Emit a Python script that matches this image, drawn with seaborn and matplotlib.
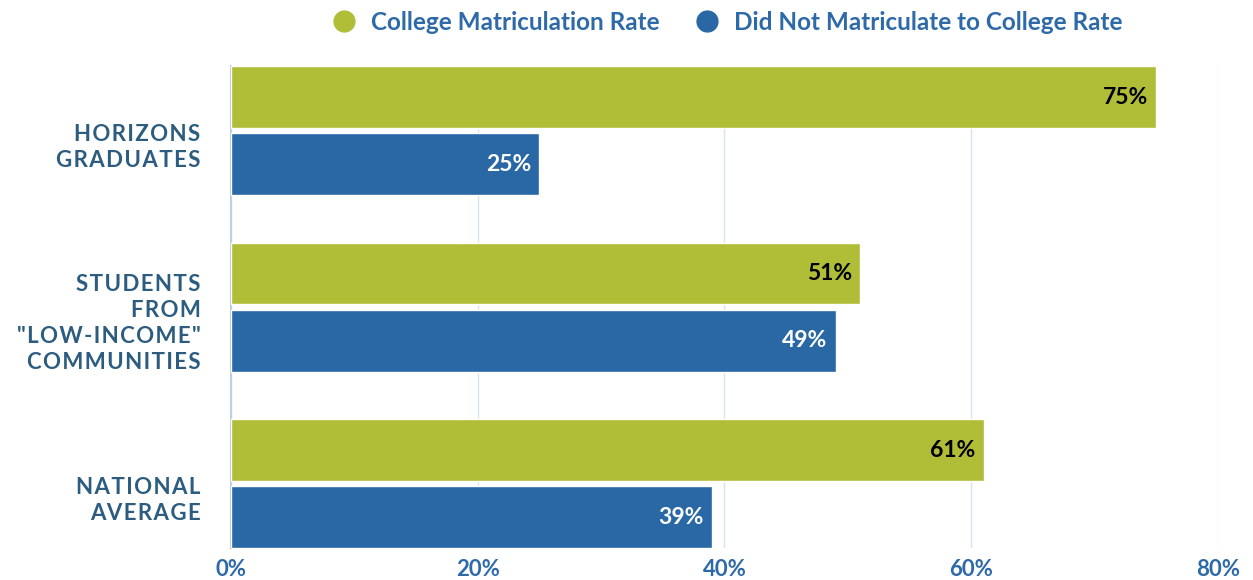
import matplotlib
matplotlib.use("Agg")
import matplotlib.pyplot as plt
import matplotlib.transforms as mtransforms
from matplotlib.lines import Line2D
import pandas as pd
import seaborn as sns

# ==================== DATA ====================
groups = ["HORIZONS\nGRADUATES", "STUDENTS\nFROM\n\"LOW-INCOME\"\nCOMMUNITIES", "NATIONAL\nAVERAGE"]
series = ["College Matriculation Rate", "Did Not Matriculate to College Rate"]
matriculated = [75, 51, 61]
not_matriculated = [25, 49, 39]
x_ticks = [0, 20, 40, 60, 80]
x_tick_labels = ["0%", "20%", "40%", "60%", "80%"]

GREEN = "#b0bd37"
BLUE = "#2967a5"
LABEL_COLOR = "#2c5c7f"
TICK_COLOR = "#2e6aa8"
GRID_COLOR = "#d7e3ee"

df = pd.DataFrame({
    "group": groups * 2,
    "series": [series[0]] * len(groups) + [series[1]] * len(groups),
    "rate": matriculated + not_matriculated,
})


def spaced(text):
    """Fake letter-spacing with hair spaces."""
    return "\n".join("\u200a".join(line) for line in text.split("\n"))


# ==================== PLOT ====================
sns.set_style("white")
plt.rcParams["font.family"] = ["Lato", "DejaVu Sans"]

fig = plt.figure(figsize=(12.53, 5.8), dpi=100)
ax = fig.add_axes([0.1844, 0.055, 0.972 - 0.1844, 0.886 - 0.055])

sns.barplot(
    data=df, x="rate", y="group", hue="series", orient="h",
    palette=[GREEN, BLUE], saturation=1, width=0.76, gap=0.08,
    legend=False, ax=ax, zorder=3,
)

ax.set_xlim(0, 80)
ax.set_ylim(2.365, -0.365)
ax.set_xticks(x_ticks)
ax.set_xticklabels(x_tick_labels)
ax.set_yticks(range(len(groups)))
ax.set_yticklabels([spaced(g) for g in groups])
ax.set_xlabel("")
ax.set_ylabel("")
ax.grid(axis="x", color=GRID_COLOR, linewidth=1, zorder=0)
for side in ["top", "right", "bottom"]:
    ax.spines[side].set_visible(False)
ax.spines["left"].set_color("#bfd0e0")
ax.spines["left"].set_linewidth(1.5)
ax.tick_params(axis="both", length=0)
ax.tick_params(axis="x", pad=8)
ax.tick_params(axis="y", pad=22)

for lbl in ax.get_xticklabels():
    lbl.set_fontsize(16)
    lbl.set_fontweight("bold")
    lbl.set_color(TICK_COLOR)

shift = mtransforms.ScaledTranslation(0, -0.12, fig.dpi_scale_trans)
for lbl in ax.get_yticklabels():
    lbl.set_fontsize(16)
    lbl.set_fontweight("bold")
    lbl.set_color(LABEL_COLOR)
    lbl.set_horizontalalignment("right")
    lbl.set_multialignment("right")
    lbl.set_linespacing(1.3)
    lbl.set_transform(lbl.get_transform() + shift)

# value labels inside the bar ends
for container, txt_color in zip(ax.containers, ["black", "white"]):
    for bar in container:
        w = bar.get_width()
        ax.annotate(
            f"{w:.0f}%", xy=(w, bar.get_y() + bar.get_height() / 2),
            xytext=(-6, 0), textcoords="offset points",
            ha="right", va="center", fontsize=16.5, fontweight="bold",
            color=txt_color, zorder=5,
        )

handles = [
    Line2D([0], [0], marker="o", linestyle="", markersize=15,
           markerfacecolor=c, markeredgecolor=c)
    for c in [GREEN, BLUE]
]
fig.legend(
    handles, series, loc="center", bbox_to_anchor=(0.5755, 0.962), ncol=2,
    frameon=False, handletextpad=0.1, columnspacing=0.95,
    prop={"size": 17.5, "weight": "bold"}, labelcolor=TICK_COLOR,
)

fig.savefig("out.png", dpi=100)
